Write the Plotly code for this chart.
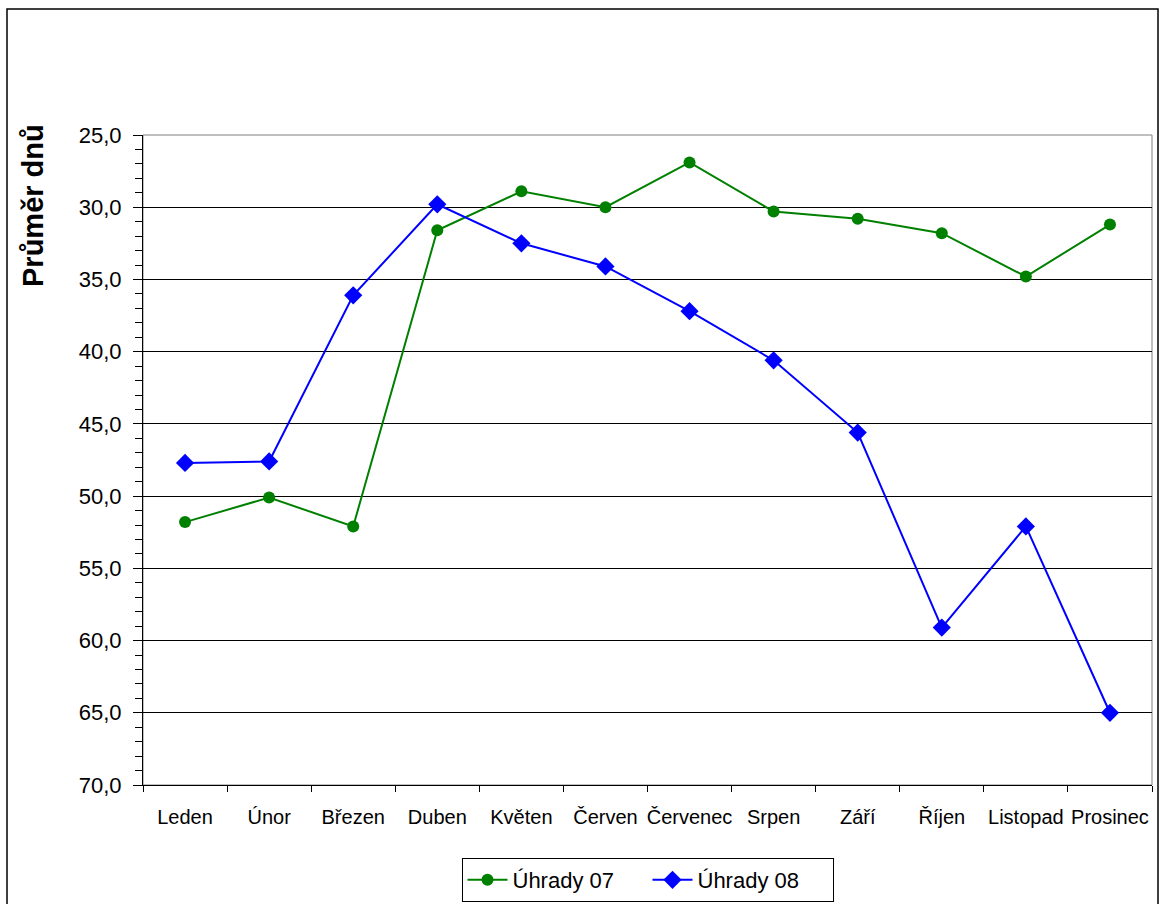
import plotly.graph_objects as go

# Months on the category axis
months = ["Leden", "Únor", "Březen", "Duben", "Květen", "Červen",
          "Červenec", "Srpen", "Září", "Říjen", "Listopad", "Prosinec"]

# Average number of days per month
uhrady_07 = [51.8, 50.1, 52.1, 31.6, 28.9, 30.0, 26.9, 30.3, 30.8, 31.8, 34.8, 31.2]
uhrady_08 = [47.7, 47.6, 36.1, 29.8, 32.5, 34.1, 37.2, 40.6, 45.6, 59.1, 52.1, 65.0]

y_range = [70, 25]
y_ticks = [25, 30, 35, 40, 45, 50, 55, 60, 65, 70]

FONT = "Arial, Liberation Sans, sans-serif"

fig = go.Figure()
fig.add_trace(go.Scatter(
    x=months, y=uhrady_07, name="Úhrady 07", mode="lines+markers",
    line=dict(color="#008000", width=2),
    marker=dict(symbol="circle", size=12, color="#008000"),
))
fig.add_trace(go.Scatter(
    x=months, y=uhrady_08, name="Úhrady 08", mode="lines+markers",
    line=dict(color="#0000FF", width=2),
    marker=dict(symbol="diamond", size=14, color="#0000FF"),
))

W, H = 1161, 904
L, R, T, B = 143, 9, 135, 119
pw, ph = W - L - R, H - T - B


def px_x(p):
    return (p - L) / pw


def px_y(p):
    return (H - B - p) / ph


fig.update_layout(
    width=W, height=H,
    margin=dict(l=L, r=R, t=T, b=B, autoexpand=False),
    paper_bgcolor="white", plot_bgcolor="white",
    separators=", ",
    font=dict(family=FONT, size=20, color="black"),
    showlegend=True,
    legend=dict(
        orientation="h", x=0.5, xanchor="center",
        y=px_y(858), yanchor="top",
        bordercolor="black", borderwidth=1,
        font=dict(family=FONT, size=22, color="black"),
        entrywidth=130, entrywidthmode="pixels",
        itemwidth=40,
    ),
    xaxis=dict(
        type="category", categoryorder="array", categoryarray=months,
        range=[-0.5, len(months) - 0.5],
        automargin=False, tickangle=0,
        showgrid=False, zeroline=False,
        showline=True, linecolor="black", linewidth=1,
        ticks="outside", ticklen=6, tickcolor="black", tickson="boundaries",
        tickfont=dict(family=FONT, size=20, color="black"),
        ticklabelstandoff=14,
    ),
    yaxis=dict(
        range=y_range, tickvals=y_ticks, tickformat=".1f",
        automargin=False,
        showgrid=True, gridcolor="black", gridwidth=1,
        zeroline=False,
        showline=True, linecolor="black", linewidth=1,
        ticks="outside", ticklen=9, tickcolor="black",
        minor=dict(dtick=1, ticks="outside", ticklen=7, tickcolor="black", showgrid=False),
        tickfont=dict(family=FONT, size=22, color="black"),
        ticklabelstandoff=7,
    ),
    yaxis2=dict(
        overlaying="y", side="left", range=y_range, tickvals=y_ticks,
        automargin=False,
        showgrid=False, zeroline=False, showline=False, showticklabels=False,
        ticks="inside", ticklen=5, tickcolor="black",
        minor=dict(dtick=1, ticks="inside", ticklen=5, tickcolor="black", showgrid=False),
    ),
    shapes=[
        # plot area frame
        dict(type="rect", xref="paper", yref="paper", x0=0, x1=1, y0=0, y1=1,
             line=dict(color="#808080", width=1), layer="below"),
        # chart frame
        dict(type="rect", xref="paper", yref="paper",
             x0=px_x(7), x1=px_x(1158), y0=px_y(915), y1=px_y(9),
             line=dict(color="black", width=1.5), layer="below"),
    ],
    annotations=[
        dict(text="<b>Průměr dnů</b>", textangle=-90, xref="paper", yref="paper",
             x=px_x(33), y=px_y(206), xanchor="center", yanchor="middle",
             showarrow=False,
             font=dict(family=FONT, size=29, color="black")),
    ],
)

fig.write_html("out.html")
